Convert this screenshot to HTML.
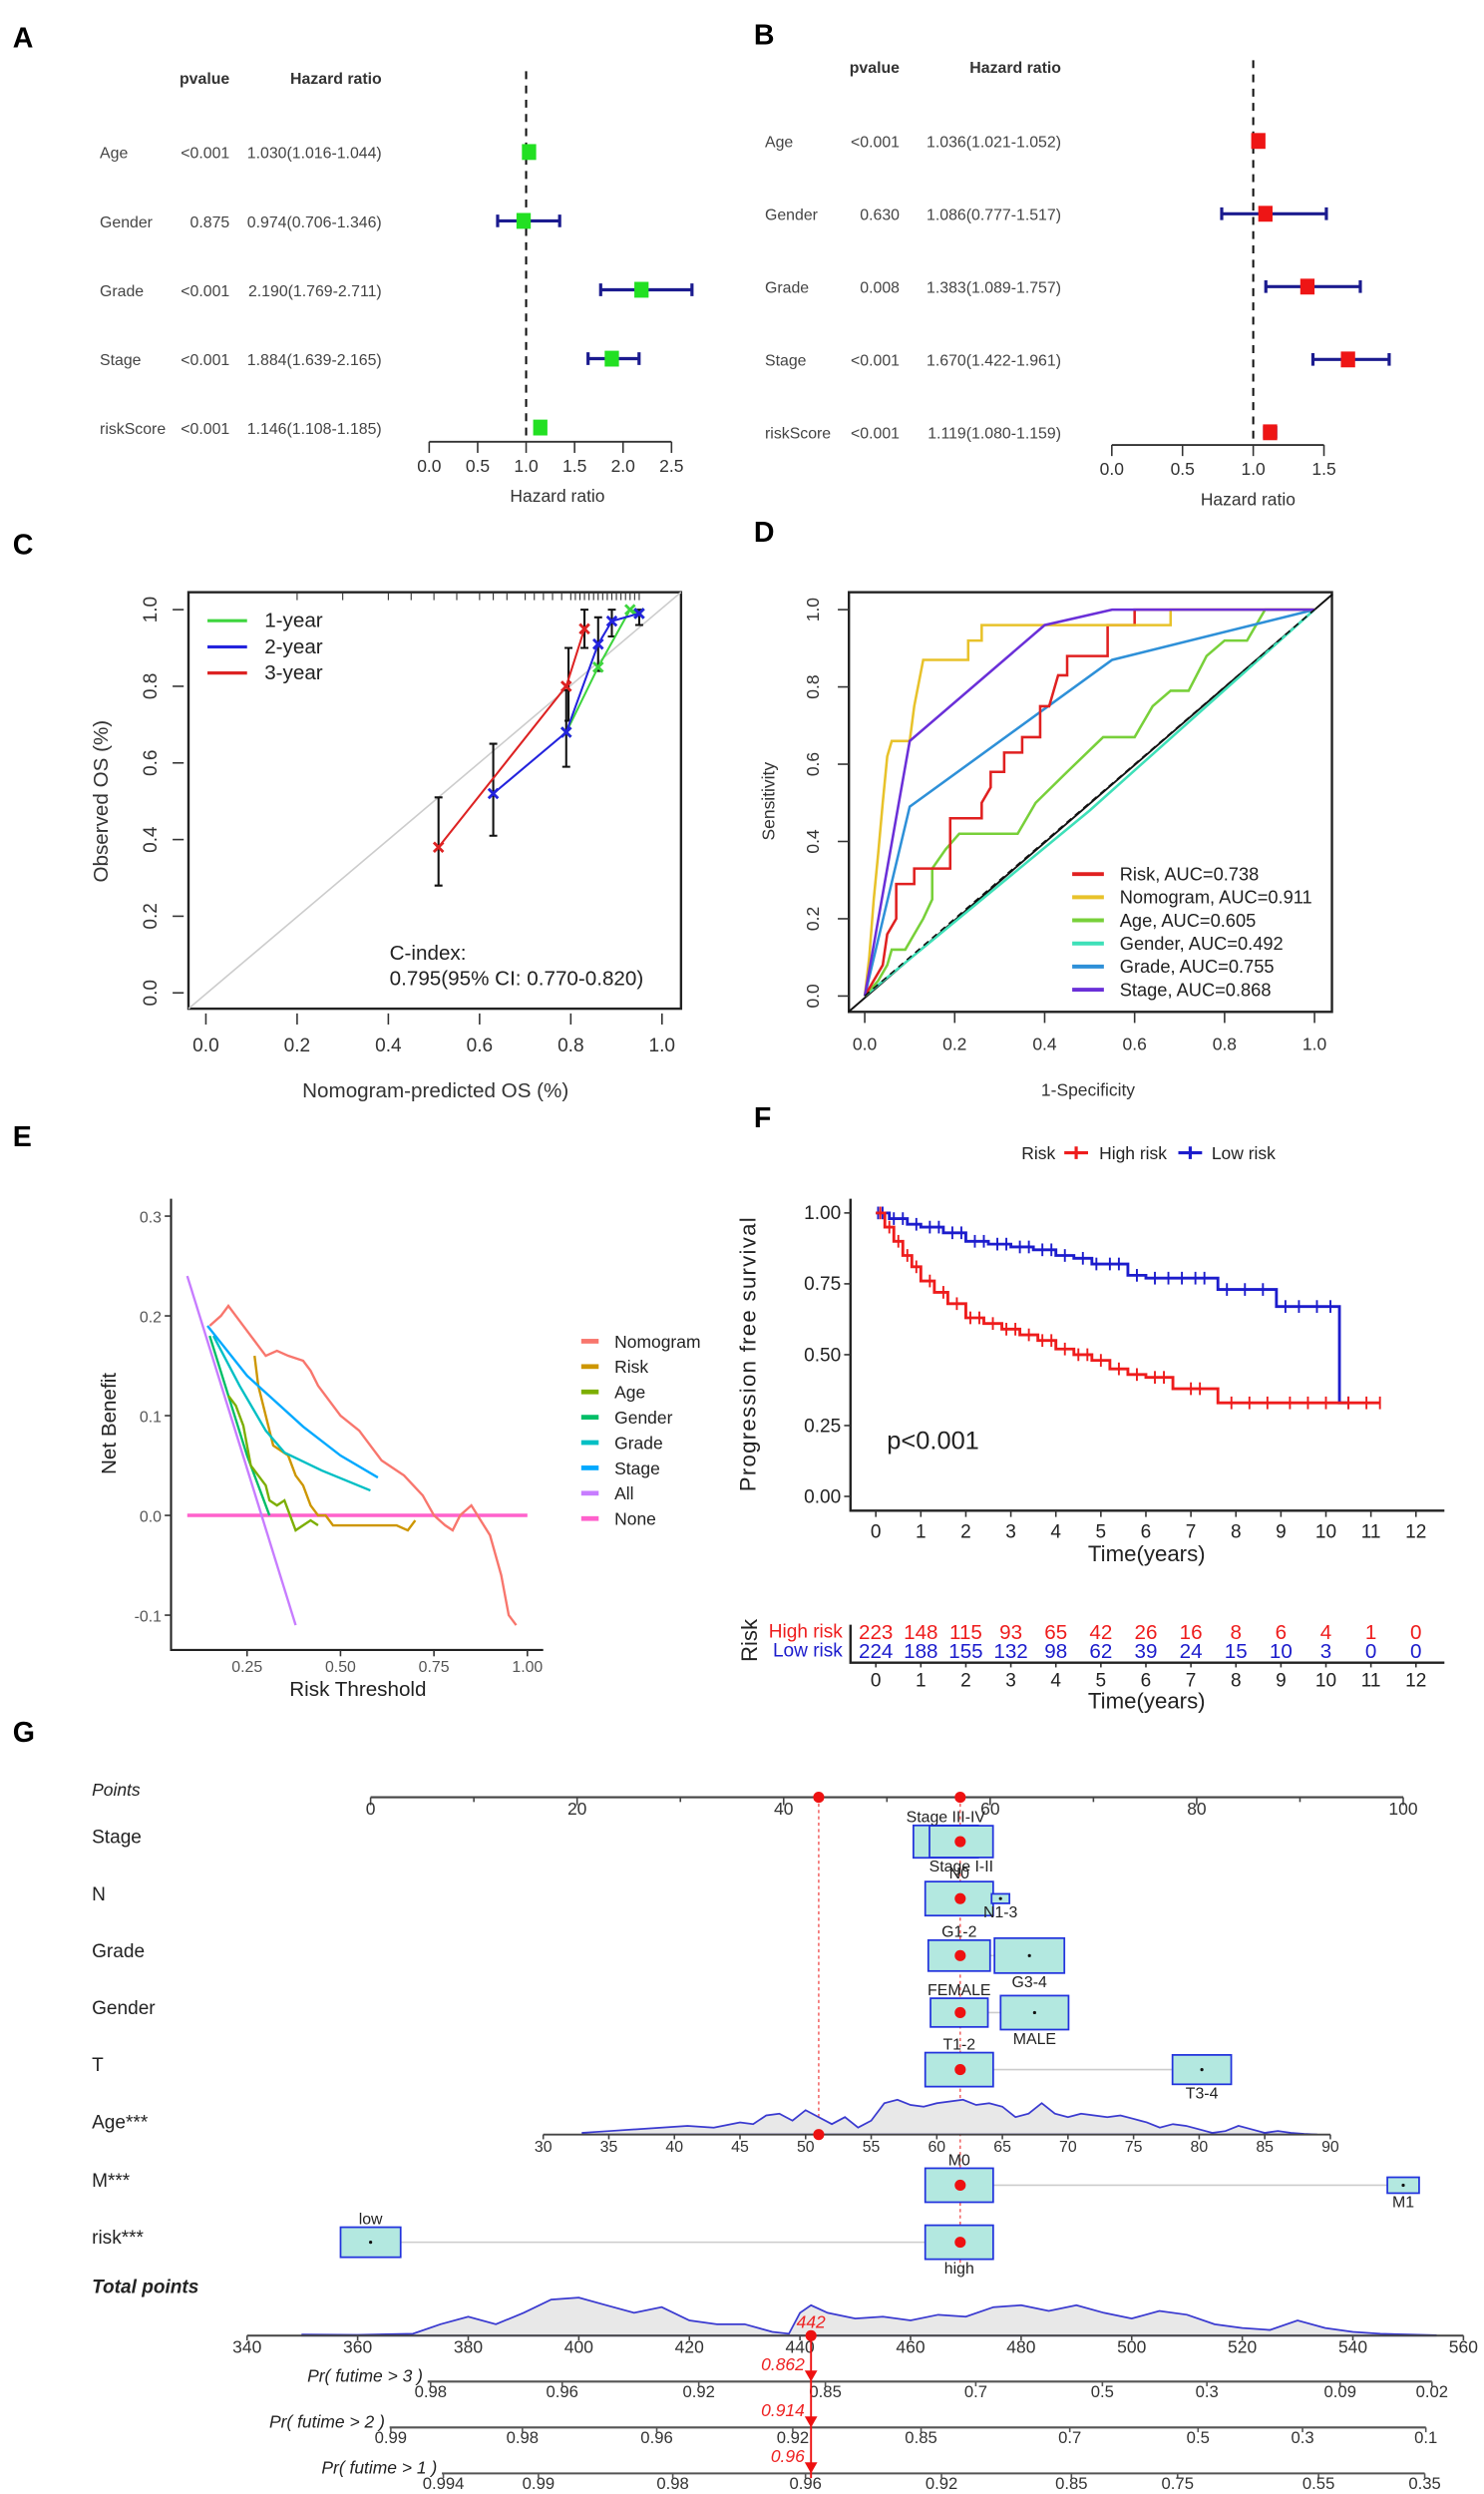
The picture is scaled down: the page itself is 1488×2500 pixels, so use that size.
<!DOCTYPE html>
<html><head><meta charset="utf-8"><title>Prognostic figure</title>
<style>
html,body{margin:0;padding:0;background:#fff;}
svg{display:block;font-family:"Liberation Sans",Arial,sans-serif;}
</style></head>
<body>
<svg id="fig" xmlns="http://www.w3.org/2000/svg" width="1488" height="2500" viewBox="0 0 937 1575" preserveAspectRatio="none">
<rect x="0" y="0" width="937" height="1575" fill="#fff"/>
<text x="8" y="30" font-size="18" font-weight="bold">A</text>
<text x="476" y="28" font-size="18" font-weight="bold">B</text>
<text x="8" y="350" font-size="18" font-weight="bold">C</text>
<text x="476" y="342" font-size="18" font-weight="bold">D</text>
<text x="8" y="724" font-size="18" font-weight="bold">E</text>
<text x="476" y="712" font-size="18" font-weight="bold">F</text>
<text x="8" y="1100" font-size="18" font-weight="bold">G</text>
</svg>
<script>
const NS='http://www.w3.org/2000/svg';
const svg=document.getElementById('fig');
function mk(tag,a,p){const e=document.createElementNS(NS,tag);for(const k in a)e.setAttribute(k,a[k]);(p||svg).appendChild(e);return e;}
function tx(x,y,s,a,p){const e=mk('text',Object.assign({x:x,y:y},a||{}),p);e.textContent=s;return e;}

/* ---------- Panels A/B data ---------- */
const forestVars=['Age','Gender','Grade','Stage','riskScore'];
const aPval=['<0.001','0.875','<0.001','<0.001','<0.001'];
const aHR=[1.030,0.974,2.190,1.884,1.146];
const aLow=[1.016,0.706,1.769,1.639,1.108];
const aHigh=[1.044,1.346,2.711,2.165,1.185];
const aTicks=[0,0.5,1,1.5,2,2.5];
const bPval=['<0.001','0.630','0.008','<0.001','<0.001'];
const bHR=[1.036,1.086,1.383,1.670,1.119];
const bLow=[1.021,0.777,1.089,1.422,1.080];
const bHigh=[1.052,1.517,1.757,1.961,1.159];
const bTicks=[0,0.5,1,1.5];

/* ---------- Panel C data ---------- */
const cPred1=[0.79,0.86,0.93,0.95];
const cObs1=[0.68,0.85,1.0,0.99];
const cPred2=[0.63,0.79,0.86,0.89,0.95];
const cObs2=[0.52,0.68,0.91,0.97,0.99];
const cPred3=[0.51,0.79,0.83];
const cObs3=[0.38,0.80,0.95];
const cErrX=[0.51,0.63,0.79,0.795,0.83,0.86,0.89,0.95];
const cErrLo=[0.28,0.41,0.59,0.71,0.90,0.84,0.93,0.96];
const cErrHi=[0.51,0.65,0.79,0.90,1.0,0.98,1.0,1.0];
const cRug=[0.2,0.3,0.4,0.45,0.5,0.55,0.6,0.63,0.66,0.7,0.72,0.74,0.76,0.78,0.8,0.81,0.82,0.83,0.84,0.85,0.86,0.87,0.88,0.89,0.9,0.91,0.92,0.93,0.94,0.95];
const cTicks=[0,0.2,0.4,0.6,0.8,1.0];

/* ---------- Panel D data ---------- */
const rocNames=['Risk, AUC=0.738','Nomogram, AUC=0.911','Age, AUC=0.605','Gender, AUC=0.492','Grade, AUC=0.755','Stage, AUC=0.868'];
const rocFpr=[
 [0,0.02,0.04,0.05,0.07,0.07,0.11,0.11,0.19,0.19,0.26,0.26,0.28,0.28,0.31,0.31,0.35,0.35,0.39,0.39,0.41,0.42,0.43,0.45,0.45,0.54,0.54,0.6,0.6,1],
 [0,0.01,0.02,0.03,0.04,0.05,0.06,0.1,0.11,0.13,0.23,0.23,0.26,0.26,0.68,0.68,1],
 [0,0.03,0.05,0.06,0.09,0.13,0.15,0.15,0.18,0.21,0.34,0.38,0.45,0.53,0.6,0.64,0.68,0.72,0.76,0.8,0.85,0.89,1],
 [0,0.5,1],
 [0,0.1,0.55,1],
 [0,0.1,0.4,0.55,1]];
const rocTpr=[
 [0,0.04,0.08,0.16,0.2,0.29,0.29,0.33,0.33,0.46,0.46,0.5,0.54,0.58,0.58,0.63,0.63,0.67,0.67,0.75,0.75,0.79,0.83,0.83,0.88,0.88,0.96,0.96,1,1],
 [0,0.1,0.25,0.37,0.5,0.62,0.66,0.66,0.75,0.87,0.87,0.92,0.92,0.96,0.96,1,1],
 [0,0.04,0.08,0.12,0.12,0.2,0.25,0.33,0.38,0.42,0.42,0.5,0.58,0.67,0.67,0.75,0.79,0.79,0.88,0.92,0.92,1,1],
 [0,0.48,1],
 [0,0.49,0.87,1],
 [0,0.66,0.96,1,1]];
const dTicks=[0,0.2,0.4,0.6,0.8,1.0];

/* ---------- Panel E data ---------- */
const dcaNames=['Nomogram','Risk','Age','Gender','Grade','Stage','All','None'];
const dcaT=[
 [0.15,0.18,0.2,0.22,0.24,0.26,0.28,0.3,0.33,0.36,0.4,0.42,0.44,0.47,0.5,0.55,0.59,0.61,0.63,0.67,0.72,0.75,0.78,0.8,0.82,0.85,0.9,0.93,0.95,0.97],
 [0.27,0.28,0.3,0.32,0.34,0.36,0.38,0.4,0.42,0.44,0.46,0.48,0.5,0.55,0.6,0.65,0.68,0.7],
 [0.2,0.22,0.24,0.25,0.26,0.28,0.3,0.31,0.33,0.35,0.36,0.38,0.4,0.42,0.44],
 [0.15,0.2,0.25,0.31],
 [0.16,0.23,0.3,0.35,0.45,0.58],
 [0.144,0.25,0.4,0.5,0.6],
 [0.09,0.38],
 [0.09,1.0]];
const dcaNB=[
 [0.19,0.2,0.21,0.2,0.19,0.18,0.17,0.16,0.165,0.16,0.155,0.145,0.13,0.115,0.1,0.085,0.065,0.055,0.05,0.04,0.02,0.0,-0.01,-0.015,0,0.01,-0.02,-0.06,-0.1,-0.11],
 [0.16,0.13,0.1,0.07,0.065,0.06,0.04,0.03,0.01,0.0,0.0,-0.01,-0.01,-0.01,-0.01,-0.01,-0.015,-0.005],
 [0.12,0.11,0.09,0.07,0.05,0.04,0.03,0.015,0.01,0.015,0.005,-0.015,-0.01,-0.005,-0.01],
 [0.18,0.12,0.06,0.0],
 [0.18,0.13,0.085,0.063,0.045,0.025],
 [0.19,0.14,0.089,0.06,0.038],
 [0.24,-0.11],
 [0,0]];
const eXTicks=[0.25,0.5,0.75,1.0];
const eXLabels=['0.25','0.50','0.75','1.00'];
const eYTicks=[-0.1,0,0.1,0.2,0.3];

/* ---------- Panel F data ---------- */
const kmHighT=[0.2,0.4,0.6,0.8,1.0,1.3,1.6,2.0,2.4,2.8,3.2,3.6,4.0,4.4,4.8,5.2,5.6,6.0,6.6,7.6];
const kmHighS=[0.95,0.9,0.85,0.81,0.76,0.72,0.68,0.63,0.61,0.59,0.57,0.55,0.52,0.5,0.48,0.45,0.43,0.42,0.38,0.33];
const kmHighEnd=11.2;
const kmLowT=[0.3,0.7,1.0,1.5,2.0,2.5,3.0,3.5,4.0,4.4,4.8,5.6,6.0,7.6,8.9,10.3];
const kmLowS=[0.98,0.96,0.95,0.93,0.9,0.89,0.88,0.87,0.85,0.84,0.82,0.78,0.77,0.73,0.67,0.33];
const kmLowEnd=10.5;
const censHigh=[0.1,0.3,0.5,0.7,0.9,1.2,1.5,1.8,2.1,2.3,2.6,2.9,3.1,3.4,3.7,3.9,4.2,4.5,4.7,5.0,5.4,5.8,6.2,6.4,7.0,7.2,7.9,8.3,8.7,9.2,9.6,10.0,10.5,10.9,11.2];
const censLow=[0.05,0.15,0.4,0.6,0.9,1.2,1.4,1.7,1.9,2.2,2.4,2.7,2.9,3.2,3.4,3.7,3.9,4.2,4.6,4.9,5.2,5.4,5.8,6.2,6.5,6.8,7.1,7.3,7.8,8.2,8.6,9.1,9.4,9.8,10.1,10.5];
const riskHigh=[223,148,115,93,65,42,26,16,8,6,4,1,0];
const riskLow=[224,188,155,132,98,62,39,24,15,10,3,0,0];
const fYTicks=[0,0.25,0.5,0.75,1.0];
const fYLabels=['0.00','0.25','0.50','0.75','1.00'];
const fXTicks=[0,1,2,3,4,5,6,7,8,9,10,11,12];

/* ---------- Panel G data ---------- */
const nomRows=['Stage','N','Grade','Gender','T','Age***','M***','risk***'];
const nomLabels=[['Stage III-IV','Stage I-II'],['N0','N1-3'],['G1-2','G3-4'],['FEMALE','MALE'],['T1-2','T3-4'],null,['M0','M1'],['low','high']];
const nomPoints=[[55.7,57.2],[57,61],[57,63.8],[57,64.3],[57,80.5],null,[57,100],[0,57]];
const nomFreq=[[0.79,0.76],[0.87,0.06],[0.72,0.92],[0.62,0.87],[0.87,0.65],null,[0.87,0.19],[0.68,0.87]];
const patientPoints=57.1;
const patientAge=51;
const patientTotal=442;
const ageVals=[33,35,37,39,41,43,45,46,47,48,49,50,51,52,53,54,55,56,57,58,59,60,61,62,63,64,65,66,67,68,69,70,71,72,73,74,75,76,77,78,79,80,81,82,83,84,85,86,87,88,89];
const ageDens=[0.05,0.1,0.15,0.2,0.25,0.2,0.35,0.3,0.55,0.6,0.4,0.7,0.5,0.3,0.5,0.2,0.4,0.9,1.0,0.85,0.8,0.9,0.95,1.0,0.85,0.9,0.8,0.5,0.6,0.9,0.6,0.5,0.6,0.55,0.5,0.55,0.45,0.35,0.2,0.3,0.25,0.15,0.05,0.1,0.25,0.15,0.05,0.1,0.05,0.02,0];
const totVals=[350,360,370,375,380,385,390,395,400,405,410,415,420,425,430,435,438,440,442,445,450,455,460,465,470,475,480,485,490,495,500,505,510,515,520,525,530,535,540,545,550,555];
const totDens=[0.03,0.02,0.05,0.3,0.5,0.3,0.6,0.95,1.0,0.8,0.6,0.75,0.4,0.3,0.3,0.1,0.05,0.6,0.8,0.6,0.45,0.5,0.4,0.55,0.5,0.75,0.8,0.65,0.8,0.6,0.45,0.65,0.55,0.3,0.2,0.15,0.4,0.2,0.1,0.05,0.03,0.01];
const prNames=['Pr( futime > 3 )','Pr( futime > 2 )','Pr( futime > 1 )'];
const prTickLabels=[
 ['0.98','0.96','0.92','0.85','0.7','0.5','0.3','0.09','0.02'],
 ['0.99','0.98','0.96','0.92','0.85','0.7','0.5','0.3','0.1'],
 ['0.994','0.99','0.98','0.96','0.92','0.85','0.75','0.55','0.35']];
const prTickTotals=[
 [373.2,397,421.7,444.6,471.8,494.7,513.6,537.7,554.3],
 [366,389.8,414.1,438.7,461.9,488.8,512,530.9,553.2],
 [375.5,392.7,417,441,465.6,489.1,508.3,533.8,553]];
const prPatient=['0.862','0.914','0.96'];

/* ================= PANEL A & B ================= */
function forest(cfg){
  const g=mk('g',{});
  
  
  const X=v=>cfg.x0+v*cfg.scale;
  let h=tx(cfg.pX,cfg.hy,'pvalue',{'font-size':10,'text-anchor':'end','font-weight':'bold',fill:'#333'},g);
  
  
  h=tx(cfg.hrX,cfg.hy,'Hazard ratio',{'font-size':10,'text-anchor':'end','font-weight':'bold',fill:'#333'},g);
  
  
  const dl=mk('line',{x1:X(1),x2:X(1),y1:cfg.hy-8,y2:cfg.axisY-3,stroke:'#111','stroke-width':1.3,'stroke-dasharray':'5,4'},g);
  
  
  for(let i=0;i<forestVars.length;i++){
    const y=cfg.rows0+i*cfg.rowStep;
    let t=tx(cfg.labX,y+4,forestVars[i],{'font-size':10,fill:'#444'},g);
    
    
    t=tx(cfg.pX,y+4,cfg.p[i],{'font-size':10,'text-anchor':'end',fill:'#444'},g);
    
    
    t=tx(cfg.hrX,y+4,cfg.hr[i].toFixed(3)+'('+cfg.lo[i].toFixed(3)+'-'+cfg.hi[i].toFixed(3)+')',{'font-size':10,'text-anchor':'end',fill:'#444'},g);
    
    
    const ci=mk('path',{d:`M${X(cfg.lo[i])},${y-4}V${y+4}M${X(cfg.lo[i])},${y}H${X(cfg.hi[i])}M${X(cfg.hi[i])},${y-4}V${y+4}`,stroke:'#1b1b8f','stroke-width':2,fill:'none'},g);
    
    
    const b=mk('rect',{x:X(cfg.hr[i])-4.5,y:y-5,width:9,height:10,fill:cfg.color},g);
    
    
  }
  const ax=mk('line',{x1:X(0),x2:X(cfg.ticks[cfg.ticks.length-1]),y1:cfg.axisY,y2:cfg.axisY,stroke:'#333','stroke-width':1.2},g);
  
  
  cfg.ticks.forEach(v=>{
    const tk=mk('line',{x1:X(v),x2:X(v),y1:cfg.axisY,y2:cfg.axisY+7,stroke:'#333'},g);
    
    
    const tl=tx(X(v),cfg.axisY+19,v.toFixed(1),{'font-size':11,'text-anchor':'middle',fill:'#333'},g);
    
    
  });
  const ti=tx(cfg.titleX,cfg.axisY+38,'Hazard ratio',{'font-size':11,'text-anchor':'middle',fill:'#333'},g);
  
  
}
forest({name:'forest-plot-a',x0:271,scale:61.2,labX:63,pX:145,hrX:241,hy:53,rows0:96,rowStep:43.5,axisY:279,ticks:aTicks,p:aPval,hr:aHR,lo:aLow,hi:aHigh,color:'#22e022',titleX:352});
forest({name:'forest-plot-b',x0:702,scale:89.3,labX:483,pX:568,hrX:670,hy:46,rows0:89,rowStep:46,axisY:281,ticks:bTicks,p:bPval,hr:bHR,lo:bLow,hi:bHigh,color:'#ee1515',titleX:788});

/* ================= PANEL C ================= */
{
  const g=mk('g',{});
  
  
  const X=v=>130+v*288, Y=v=>627-v*242;
  const box=mk('rect',{x:119,y:374,width:311,height:263,fill:'none',stroke:'#222','stroke-width':1.5},g);
  
  
  const dg=mk('line',{x1:119,y1:637,x2:430,y2:374,stroke:'#ccc','stroke-width':1},g);
  
  
  cRug.forEach(v=>{const r=mk('line',{x1:X(v),x2:X(v),y1:374,y2:379,stroke:'#333','stroke-width':0.7},g);
    
    });
  cTicks.forEach(v=>{
    let a=mk('line',{x1:X(v),x2:X(v),y1:640,y2:647,stroke:'#333'},g);
    
    
    let t=tx(X(v),664,v.toFixed(1),{'font-size':12,'text-anchor':'middle',fill:'#333'},g);
    
    
    a=mk('line',{x1:109,x2:116,y1:Y(v),y2:Y(v),stroke:'#333'},g);
    
    
    t=tx(99,Y(v),v.toFixed(1),{'font-size':12,'text-anchor':'middle',fill:'#333',transform:`rotate(-90 99 ${Y(v)})`},g);
    
    
  });
  let t=tx(275,693,'Nomogram-predicted OS (%)',{'font-size':13,'text-anchor':'middle',fill:'#333'},g);
  
  
  t=tx(68,506,'Observed OS (%)',{'font-size':13,'text-anchor':'middle',fill:'#333',transform:'rotate(-90 68 506)'},g);
  
  
  for(let i=0;i<cErrX.length;i++){
    const e=mk('path',{d:`M${X(cErrX[i])},${Y(cErrLo[i])}V${Y(cErrHi[i])}M${X(cErrX[i])-2.5},${Y(cErrLo[i])}h5M${X(cErrX[i])-2.5},${Y(cErrHi[i])}h5`,stroke:'#111','stroke-width':1.3,fill:'none'},g);
    
    
  }
  const ser=[[cPred1,cObs1,'#3ed53e','1-year'],[cPred2,cObs2,'#2323dd','2-year'],[cPred3,cObs3,'#dd2222','3-year']];
  ser.forEach((s,k)=>{
    const l=mk('polyline',{points:s[0].map((v,i)=>X(v)+','+Y(s[1][i])).join(' '),fill:'none',stroke:s[2],'stroke-width':1.3},g);
    
    
    s[0].forEach((v,i)=>{const m=mk('path',{d:`M${X(v)-3},${Y(s[1][i])-3}l6,6m0,-6l-6,6`,stroke:s[2],'stroke-width':1.8},g);
      
      });
    const ll=mk('line',{x1:131,x2:156,y1:392+k*16.5,y2:392+k*16.5,stroke:s[2],'stroke-width':2},g);
    
    
    const lt=tx(167,396+k*16.5,s[3],{'font-size':13,fill:'#222'},g);
    
    
  });
  t=tx(246,606,'C-index:',{'font-size':13,fill:'#222'},g);
  
  
  t=tx(246,622,'0.795(95% CI: 0.770-0.820)',{'font-size':13,fill:'#222'},g);
  
  
}

/* ================= PANEL D ================= */
{
  const g=mk('g',{});
  
  
  const X=v=>546+v*284, Y=v=>629-v*244;
  const box=mk('rect',{x:536,y:374,width:305,height:265,fill:'none',stroke:'#222','stroke-width':1.5},g);
  
  
  dTicks.forEach(v=>{
    let a=mk('line',{x1:X(v),x2:X(v),y1:639,y2:646,stroke:'#333'},g);
    
    
    let t=tx(X(v),663,v.toFixed(1),{'font-size':11,'text-anchor':'middle',fill:'#333'},g);
    
    
    a=mk('line',{x1:529,x2:536,y1:Y(v),y2:Y(v),stroke:'#333'},g);
    
    
    t=tx(517,Y(v),v.toFixed(1),{'font-size':11,'text-anchor':'middle',fill:'#333',transform:`rotate(-90 517 ${Y(v)})`},g);
    
    
  });
  let t=tx(687,692,'1-Specificity',{'font-size':11,'text-anchor':'middle',fill:'#333'},g);
  
  
  t=tx(489,506,'Sensitivity',{'font-size':11,'text-anchor':'middle',fill:'#333',transform:'rotate(-90 489 506)'},g);
  
  
  const dg=mk('line',{x1:X(-0.035),y1:Y(-0.04),x2:X(1.04),y2:Y(1.04),stroke:'#111','stroke-width':1.2},g);
  
  
  const cols=['#e02020','#e8c22a','#78d03a','#3ee0b8','#2e90d8','#6a2fd8'];
  const draw=[3,2,4,0,1,5];
  draw.forEach(k=>{
    const l=mk('polyline',{points:rocFpr[k].map((v,i)=>X(v)+','+Y(rocTpr[k][i])).join(' '),fill:'none',stroke:cols[k],'stroke-width':1.6},g);
    
    
  });
  const dd=mk('line',{x1:X(0),y1:Y(0),x2:X(1),y2:Y(1),stroke:'#111','stroke-width':1,'stroke-dasharray':'4,3'},g);
  
  
  rocNames.forEach((n,k)=>{
    const y=552+k*14.6;
    const s=mk('line',{x1:677,x2:697,y1:y,y2:y,stroke:cols[k],'stroke-width':2.5},g);
    
    
    const lt=tx(707,y+4,n,{'font-size':11.5,fill:'#222'},g);
    
    
  });
}

/* ================= PANEL E ================= */
{
  const g=mk('g',{});
  
  
  const X=t=>97+236*t, Y=v=>957-630*v;
  const ax=mk('path',{d:'M108,757V1042H343',fill:'none',stroke:'#222','stroke-width':1.3},g);
  
  
  eYTicks.forEach(v=>{
    const a=mk('line',{x1:104,x2:108,y1:Y(v),y2:Y(v),stroke:'#333'},g);
    
    
    const t=tx(102,Y(v)+4,v.toFixed(1),{'font-size':10,'text-anchor':'end',fill:'#555'},g);
    
    
  });
  eXTicks.forEach((v,i)=>{
    const a=mk('line',{x1:X(v),x2:X(v),y1:1042,y2:1046,stroke:'#333'},g);
    
    
    const t=tx(X(v),1056,eXLabels[i],{'font-size':10,'text-anchor':'middle',fill:'#555'},g);
    
    
  });
  let t=tx(226,1071,'Risk Threshold',{'font-size':13,'text-anchor':'middle',fill:'#222'},g);
  
  
  t=tx(73,899,'Net Benefit',{'font-size':13,'text-anchor':'middle',fill:'#222',transform:'rotate(-90 73 899)'},g);
  
  
  const cols=['#F8766D','#CD9600','#7CAE00','#00BE67','#00BFC4','#00A9FF','#C77CFF','#FF61CC'];
  [7,6,3,2,1,4,5,0].forEach(k=>{
    const l=mk('polyline',{points:dcaT[k].map((v,i)=>X(v)+','+Y(dcaNB[k][i])).join(' '),fill:'none',stroke:cols[k],'stroke-width':k==7?2.2:1.5},g);
    
    
  });
  dcaNames.forEach((n,k)=>{
    const y=847+k*16;
    const s=mk('rect',{x:367,y:y-1.5,width:11,height:3,fill:cols[k]},g);
    
    
    const lt=tx(388,y+4,n,{'font-size':11,fill:'#222'},g);
    
    
  });
}

/* ================= PANEL F ================= */
{
  const g=mk('g',{});
  
  
  const X=t=>553+28.42*t, Y=s=>945-179*s;
  const red='#ee1c1c', blue='#1c1ccc';
  let t=tx(645,732,'Risk',{'font-size':11,fill:'#222'},g);
  
  
  [[672,red,'High risk',694],[744,blue,'Low risk',765]].forEach(L=>{
    const s=mk('path',{d:`M${L[0]},728h15M${L[0]+7.5},724v8`,stroke:L[1],'stroke-width':2},g);
    
    
    const lt=tx(L[3],732,L[2],{'font-size':11,fill:'#222'},g);
    
    
  });
  const ax=mk('path',{d:'M537,757V954H912',fill:'none',stroke:'#222','stroke-width':1.5},g);
  
  
  fYTicks.forEach((v,i)=>{
    const a=mk('line',{x1:533,x2:537,y1:Y(v),y2:Y(v),stroke:'#333'},g);
    
    
    const l=tx(531,Y(v)+4,fYLabels[i],{'font-size':12,'text-anchor':'end',fill:'#222'},g);
    
    
  });
  fXTicks.forEach(v=>{
    const a=mk('line',{x1:X(v),x2:X(v),y1:954,y2:958,stroke:'#333'},g);
    
    
    const l=tx(X(v),971,String(v),{'font-size':12,'text-anchor':'middle',fill:'#222'},g);
    
    
  });
  t=tx(724,986,'Time(years)',{'font-size':14,'text-anchor':'middle',fill:'#222'},g);
  
  
  t=tx(477,855,'Progression free survival',{'font-size':14,'text-anchor':'middle',fill:'#222','letter-spacing':'0.8',transform:'rotate(-90 477 855)'},g);
  
  
  t=tx(560,915,'p<0.001',{'font-size':16,fill:'#222'},g);
  
  
  function surv(T,S,x){let s=1;for(let i=0;i<T.length;i++){if(T[i]<=x)s=S[i];}return s;}
  [[kmLowT,kmLowS,kmLowEnd,blue,censLow,'low-risk'],[kmHighT,kmHighS,kmHighEnd,red,censHigh,'high-risk']].forEach(G=>{
    let d=`M${X(0)},${Y(1)}`;
    G[0].forEach((tt,i)=>{d+=`H${X(tt)}V${Y(G[1][i])}`;});
    d+=`H${X(G[2])}`;
    const p=mk('path',{d:d,fill:'none',stroke:G[3],'stroke-width':1.8},g);
    
    
    G[4].forEach(c=>{
      const y=Y(surv(G[0],G[1],c));
      const m=mk('line',{x1:X(c),x2:X(c),y1:y-4,y2:y+4,stroke:G[3],'stroke-width':1.2},g);
      
      
    });
  });
  t=tx(478,1036,'Risk',{'font-size':14,'text-anchor':'middle',fill:'#222',transform:'rotate(-90 478 1036)'},g);
  
  
  t=tx(532,1034,'High risk',{'font-size':12,'text-anchor':'end',fill:red},g);
  
  
  t=tx(532,1046,'Low risk',{'font-size':12,'text-anchor':'end',fill:blue},g);
  
  
  fXTicks.forEach((v,i)=>{
    let n=tx(X(v),1035,String(riskHigh[i]),{'font-size':13,'text-anchor':'middle',fill:red},g);
    
    
    n=tx(X(v),1047,String(riskLow[i]),{'font-size':13,'text-anchor':'middle',fill:blue},g);
    
    
    const a=mk('line',{x1:X(v),x2:X(v),y1:1050,y2:1053,stroke:'#333'},g);
    
    
    const l=tx(X(v),1065,String(v),{'font-size':12,'text-anchor':'middle',fill:'#222'},g);
    
    
  });
  const rl=mk('path',{d:'M537,1026V1050H912',fill:'none',stroke:'#222','stroke-width':1.5},g);
  
  
  t=tx(724,1079,'Time(years)',{'font-size':14,'text-anchor':'middle',fill:'#222'},g);
  
  
}

/* ================= PANEL G ================= */
{
  const g=mk('g',{});
  
  
  const P=v=>234+6.52*v, A=a=>343+(a-30)*8.283, T=v=>156+(v-340)*3.491;
  const rowY=[1168,1204,1240,1276,1312,1348,1385,1421];
  let t=tx(58,1134,'Points',{'font-size':11,'font-style':'italic',fill:'#222'},g);
  
  
  const pa=mk('line',{x1:P(0),x2:P(100),y1:1135,y2:1135,stroke:'#444','stroke-width':1.3},g);
  
  
  for(let v=0;v<=100;v+=10){
    const a=mk('line',{x1:P(v),x2:P(v),y1:1135,y2:v%20==0?1140:1138,stroke:'#444'},g);
    
    
    if(v%20==0){const l=tx(P(v),1146,String(v),{'font-size':11,'text-anchor':'middle',fill:'#333'},g);
      
      }
  }
  let gl=mk('line',{x1:A(patientAge),x2:A(patientAge),y1:1135,y2:1348,stroke:'#e44','stroke-width':0.8,'stroke-dasharray':'2,2'},g);
  
  
  gl=mk('line',{x1:P(patientPoints),x2:P(patientPoints),y1:1135,y2:1430,stroke:'#e44','stroke-width':0.8,'stroke-dasharray':'2,2'},g);
  
  
  nomRows.forEach((r,i)=>{
    const y=rowY[i];
    const l=tx(58,y-4,r,{'font-size':12,fill:'#222'},g);
    
    
    if(!nomPoints[i])return;
    const pts=nomPoints[i];
    const cy=y-5;
    const ln=mk('line',{x1:P(Math.min(...pts)),x2:P(Math.max(...pts)),y1:cy,y2:cy,stroke:'#ccc','stroke-width':1},g);
    
    
    pts.forEach((p,j)=>{
      const w=46*Math.sqrt(nomFreq[i][j]), h=Math.max(6,w*0.5);
      const b=mk('rect',{x:P(p)-w/2,y:cy-h/2,width:w,height:h,fill:'#b3e8e0',stroke:'#2233dd','stroke-width':1.1},g);
      
      
      const dt=mk('circle',{cx:P(p),cy:cy,r:1,fill:'#111'},g);
      
      
      const ly=j==0?cy-h/2-2:cy+h/2+9;
      const cl=tx(P(p),ly,nomLabels[i][j],{'font-size':10,'text-anchor':'middle',fill:'#222'},g);
      
      
    });
    const rd=mk('circle',{cx:P(patientPoints),cy:cy,r:3.5,fill:'#ee1111'},g);
    
    
  });
  let d=`M${A(ageVals[0])},1348`;
  ageVals.forEach((a,i)=>{d+=`L${A(a)},${1348-ageDens[i]*22}`;});
  d+=`L${A(ageVals[ageVals.length-1])},1348Z`;
  let dn=mk('path',{d:d,fill:'#e8e8e8',stroke:'#3a3ad0','stroke-width':1.1},g);
  
  
  const aa=mk('line',{x1:A(30),x2:A(90),y1:1348,y2:1348,stroke:'#444','stroke-width':1.2},g);
  
  
  for(let a=30;a<=90;a+=5){
    const k=mk('line',{x1:A(a),x2:A(a),y1:1348,y2:1351,stroke:'#444'},g);
    
    
    const l=tx(A(a),1359,String(a),{'font-size':10,'text-anchor':'middle',fill:'#333'},g);
    
    
  }
  [[P(patientPoints),1135],[A(patientAge),1135],[A(patientAge),1348]].forEach(c=>{
    const rd=mk('circle',{cx:c[0],cy:c[1],r:3.5,fill:'#ee1111'},g);
    
    
  });
  t=tx(58,1448,'Total points',{'font-size':12,'font-style':'italic','font-weight':'bold',fill:'#222'},g);
  
  
  d=`M${T(totVals[0])},1475`;
  totVals.forEach((v,i)=>{d+=`L${T(v)},${1475-totDens[i]*24}`;});
  d+=`L${T(totVals[totVals.length-1])},1475Z`;
  dn=mk('path',{d:d,fill:'#e8e8e8',stroke:'#3a3ad0','stroke-width':1.1},g);
  
  
  const ta=mk('line',{x1:T(340),x2:T(560),y1:1475,y2:1475,stroke:'#444','stroke-width':1.3},g);
  
  
  for(let v=340;v<=560;v+=20){
    const k=mk('line',{x1:T(v),x2:T(v),y1:1475,y2:1478,stroke:'#444'},g);
    
    
    const l=tx(T(v),1486,String(v),{'font-size':11,'text-anchor':'middle',fill:'#333'},g);
    
    
  }
  const pv=tx(T(patientTotal),1470,String(patientTotal),{'font-size':11,'font-style':'italic','text-anchor':'middle',fill:'#ee2222'},g);
  
  
  const prY=[1504,1533,1562];
  const prStart=[270,246,279];
  prNames.forEach((n,i)=>{
    const y=prY[i];
    const l=tx(prStart[i]-3,y,n,{'font-size':11,'font-style':'italic','text-anchor':'end',fill:'#222'},g);
    
    
    const ax=mk('line',{x1:prStart[i],x2:T(prTickTotals[i][prTickTotals[i].length-1]),y1:y,y2:y,stroke:'#555','stroke-width':1.3},g);
    
    
    prTickLabels[i].forEach((s,j)=>{
      const x=T(prTickTotals[i][j]);
      const k=mk('line',{x1:x,x2:x,y1:y,y2:y+3,stroke:'#555'},g);
      
      
      const tl=tx(x,y+10,s,{'font-size':10.5,'text-anchor':'middle',fill:'#333'},g);
      
      
    });
    const pvv=tx(T(patientTotal)-4,y-7,prPatient[i],{'font-size':11,'font-style':'italic','text-anchor':'end',fill:'#ee2222'},g);
    
    
    const ar=mk('path',{d:`M${T(patientTotal)-4},${y-7}L${T(patientTotal)+4},${y-7}L${T(patientTotal)},${y}Z`,fill:'#ee1111'},g);
    
    
  });
  const rl=mk('line',{x1:T(patientTotal),x2:T(patientTotal),y1:1472,y2:1565,stroke:'#ee1111','stroke-width':1.2},g);
  
  
  const rd=mk('circle',{cx:T(patientTotal),cy:1475,r:3.5,fill:'#ee1111'},g);
  
  
}
</script>
</body></html>
